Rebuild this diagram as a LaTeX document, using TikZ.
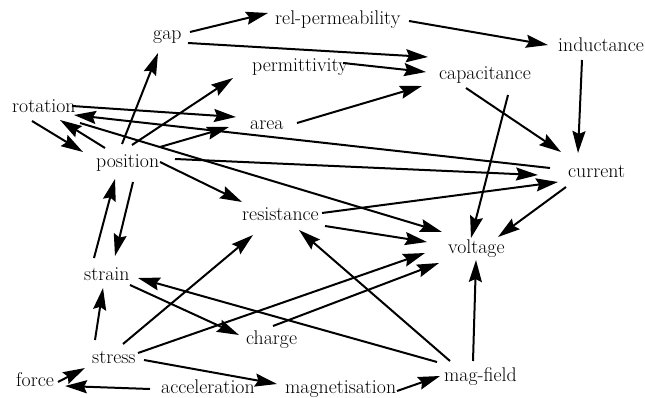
\documentclass[tikz,border=0pt]{standalone}
\usepackage{fontspec}
\setmainfont{Latin Modern Roman}
\usetikzlibrary{arrows.meta}
\begin{document}
\begin{tikzpicture}[x=1pt,y=-1pt,
  lbl/.style={inner sep=0pt, anchor=base west, font=\fontsize{19.8}{24}\selectfont},
  link/.style={line width=2pt, -{Stealth[length=22pt,width=13pt,inset=3pt]}}]
\useasboundingbox (0,0) rectangle (645,398);

% quantities
\node[lbl] (gap)    at (153,40)  {gap};
\node[lbl] (relp)   at (275,25)  {rel-permeability};
\node[lbl] (ind)    at (558,52)  {inductance};
\node[lbl] (perm)   at (252,72)  {permittivity};
\node[lbl] (cap)    at (439,80)  {capacitance};
\node[lbl] (rot)    at (12,113)  {rotation};
\node[lbl] (area)   at (250,130) {area};
\node[lbl] (pos)    at (96,168)  {position};
\node[lbl] (cur)    at (568,178) {current};
\node[lbl] (res)    at (242,221) {resistance};
\node[lbl] (volt)   at (448,253) {voltage};
\node[lbl] (strain) at (84,280)  {strain};
\node[lbl] (charge) at (246,344) {charge};
\node[lbl] (stress) at (92,363)  {stress};
\node[lbl] (force)  at (16,386)  {force};
\node[lbl] (accel)  at (161,393) {acceleration};
\node[lbl] (magn)   at (285,393) {magnetisation};
\node[lbl] (magf)   at (444,381) {mag-field};

% influences between quantities
\draw[link] ([shift={(37,-8)}]gap.base west)     -- ([shift={(-7,-12)}]relp.base west);
\draw[link] ([shift={(134,-4)}]relp.base west)   -- ([shift={(-10,-7)}]ind.base west);
\draw[link] ([shift={(35,3)}]gap.base west)      -- ([shift={(-11,-23)}]cap.base west);
\draw[link] ([shift={(91,-9)}]perm.base west)    -- ([shift={(-13,-8)}]cap.base west);
\draw[link] ([shift={(24,8)}]ind.base west)      -- ([shift={(10,-25)}]cur.base west);
\draw[link] ([shift={(27,8)}]cap.base west)      -- ([shift={(-7,-26)}]cur.base west);
\draw[link] ([shift={(69,15)}]cap.base west)     -- ([shift={(23,-15)}]volt.base west);
\draw[link] ([shift={(47,-7)}]area.base west)    -- ([shift={(-17,6)}]cap.base west);
\draw[link] ([shift={(60,-7)}]rot.base west)     -- ([shift={(-14,-13)}]area.base west);
\draw[link] ([shift={(-18,-10)}]cur.base west)   -- ([shift={(62,2)}]rot.base west);
\draw[link] ([shift={(9,-20)}]pos.base west)     -- ([shift={(48,7)}]rot.base west);
\draw[link] ([shift={(20,8)}]rot.base west)      -- ([shift={(-13,-16)}]pos.base west);
\draw[link] ([shift={(26,-24)}]pos.base west)    -- ([shift={(5,13)}]gap.base west);
\draw[link] ([shift={(36,-23)}]pos.base west)    -- ([shift={(-19,6)}]perm.base west);
\draw[link] ([shift={(64,-21)}]pos.base west)    -- ([shift={(-21,-3)}]area.base west);
\draw[link] ([shift={(79,-9)}]pos.base west)     -- ([shift={(-30,-3)}]cur.base west);
\draw[link] ([shift={(80,-8)}]res.base west)     -- ([shift={(-10,4)}]cur.base west);
\draw[link] ([shift={(64,-6)}]pos.base west)     -- ([shift={(0,-19)}]res.base west);
\draw[link] ([shift={(68,10)}]rot.base west)     -- ([shift={(-6,-21)}]volt.base west);
\draw[link] ([shift={(83,5)}]res.base west)      -- ([shift={(-21,-11)}]volt.base west);
\draw[link] ([shift={(-2,9)}]cur.base west)      -- ([shift={(50,-16)}]volt.base west);
\draw[link] ([shift={(29,-20)}]magf.base west)   -- ([shift={(28,7)}]volt.base west);
\draw[link] ([shift={(6,-20)}]magf.base west)    -- ([shift={(57,9)}]res.base west);
\draw[link] ([shift={(-7,-19)}]magf.base west)   -- ([shift={(54,-2)}]strain.base west);
\draw[link] ([shift={(46,5)}]strain.base west)   -- ([shift={(-7,-9)}]charge.base west);
\draw[link] ([shift={(46,-10)}]stress.base west) -- ([shift={(-23,0)}]volt.base west);
\draw[link] ([shift={(27,-18)}]charge.base west) -- ([shift={(-9,10)}]volt.base west);
\draw[link] ([shift={(31,-19)}]stress.base west) -- ([shift={(11,14)}]res.base west);
\draw[link] ([shift={(3,-23)}]stress.base west)  -- ([shift={(19,8)}]strain.base west);
\draw[link] ([shift={(10,-22)}]strain.base west) -- ([shift={(19,11)}]pos.base west);
\draw[link] ([shift={(37,14)}]pos.base west)     -- ([shift={(31,-24)}]strain.base west);
\draw[link] ([shift={(52,-3)}]stress.base west)  -- ([shift={(-8,-9)}]magn.base west);
\draw[link] ([shift={(112,-2)}]magn.base west)   -- ([shift={(-4,-5)}]magf.base west);
\draw[link] ([shift={(-11,-4)}]accel.base west)  -- ([shift={(49,0)}]force.base west);
\draw[link] ([shift={(42,-4)}]force.base west)   -- ([shift={(-7,5)}]stress.base west);
\end{tikzpicture}
\end{document}
